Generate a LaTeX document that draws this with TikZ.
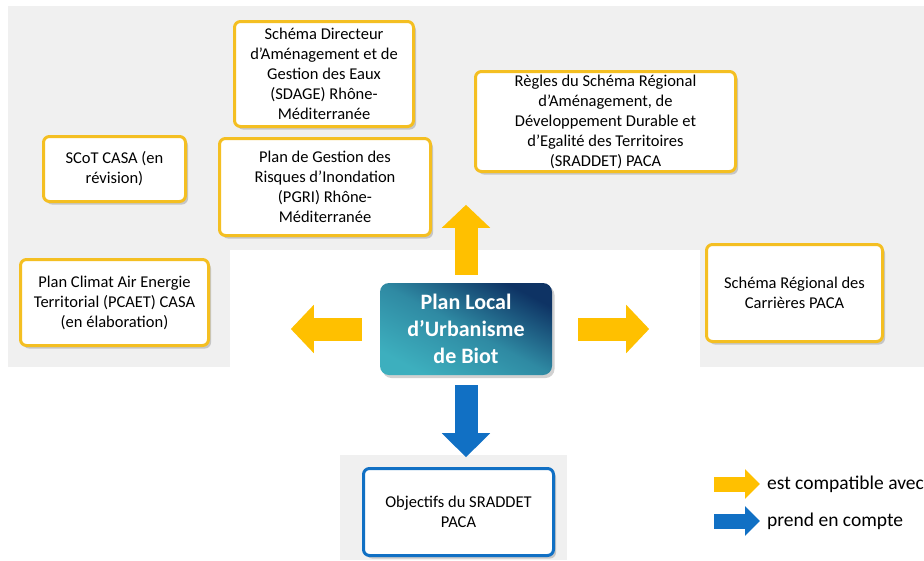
\documentclass[tikz,border=0pt]{standalone}
\usepackage{fontspec}
\setmainfont{Carlito}
\usetikzlibrary{arrows.meta, shadows, positioning}
\definecolor{plugold}{HTML}{FFC000}
\definecolor{pluframe}{HTML}{F4BF22}
\definecolor{plublue}{HTML}{1170C4}
\definecolor{plunavy}{HTML}{0E3364}
\definecolor{pluteal}{HTML}{3DAFBE}
\definecolor{bggrey}{HTML}{F0F0F0}
\tikzset{
x=1pt, y=-1pt, % one unit per pixel, y going down
softshadow/.style={drop shadow={shadow xshift=2.5pt, shadow yshift=-3pt, opacity=0.3, fill=black!60}}, % grey shadow bottom right
docbox/.style={draw=pluframe, line width=3pt, fill=white, rounded corners=6pt, align=center, inner sep=2pt, font=\fontsize{16.5}{20}\selectfont, softshadow}, % the yellow framed documents
bluebox/.style={docbox, draw=plublue}, % documents taken into account
plubox/.style={rounded corners=9pt, top color=plunavy, bottom color=pluteal, middle color=pluteal!70!plunavy, shading angle=-28, text=white, align=center, font=\bfseries\fontsize{22}{27}\selectfont, softshadow}, % the PLU itself
yarrow/.style={draw=plugold, line width=23pt, -{Triangle[length=23pt, width=47pt]}}, % block arrow, compatibility
barrow/.style={draw=plublue, line width=23pt, -{Triangle[length=24pt, width=47pt]}}, % block arrow, taken into account
legendtxt/.style={anchor=west, inner sep=0pt, font=\fontsize{19.5}{23}\selectfont},
}

\begin{document}
\begin{tikzpicture}
    \useasboundingbox (0,0) rectangle (924,560);

    % grey panels behind the boxes
    \fill[bggrey] (8,6) rectangle (924,250);
    \fill[bggrey] (8,250) rectangle (230,367);
    \fill[bggrey] (700,250) rectangle (924,367);
    \fill[bggrey] (340,455) rectangle (567,560);

    \node[plubox, minimum width=172, minimum height=92] (plu) at (466,329) {Plan Local\\d’Urbanisme\\de Biot};

    \node[docbox, minimum width=179, minimum height=105] (sdage) at (324,74) {Schéma Directeur\\d’Aménagement et de\\Gestion des Eaux\\(SDAGE) Rhône-\\Méditerranée};
    \node[docbox, minimum width=142, minimum height=65] (scot) at (114.5,169) {SCoT CASA (en\\révision)};
    \node[docbox, minimum width=211, minimum height=97] (pgri) at (325,187) {Plan de Gestion des\\Risques d’Inondation\\(PGRI) Rhône-\\Méditerranée};
    \node[docbox, minimum width=260, minimum height=100] (sraddet) at (605.5,121.5) {Règles du Schéma Régional\\d’Aménagement, de\\Développement Durable et\\d’Egalité des Territoires\\(SRADDET) PACA};
    \node[docbox, minimum width=188, minimum height=86] (pcaet) at (114.5,302.5) {Plan Climat Air Energie\\Territorial (PCAET) CASA\\(en élaboration)};
    \node[docbox, minimum width=176, minimum height=97] (src) at (794.5,293) {Schéma Régional des\\Carrières PACA};
    \node[bluebox, minimum width=190, minimum height=87] (objectifs) at (458.5,512) {Objectifs du SRADDET\\PACA};

    % block arrows around the PLU
    \coordinate (upfoot) at ([yshift=8pt]plu.north);
    \coordinate (uptip) at ([yshift=78pt]plu.north);
    \coordinate (leftfoot) at ([xshift=-18pt]plu.west);
    \coordinate (lefttip) at ([xshift=-89pt]plu.west);
    \coordinate (rightfoot) at ([xshift=26pt]plu.east);
    \coordinate (righttip) at ([xshift=97pt]plu.east);
    \coordinate (downfoot) at ([yshift=-10pt]plu.south);
    \coordinate (downtip) at ([yshift=-82pt]plu.south);

    \draw[yarrow] (upfoot) -- (uptip);
    \draw[yarrow] (leftfoot) -- (lefttip);
    \draw[yarrow] (rightfoot) -- (righttip);
    \draw[barrow] (downfoot) -- (downtip);

    % legend
    \node[legendtxt] (compat) at (767,484) {est compatible avec};
    \node[legendtxt] (compte) at (767,521) {prend en compte};
    \draw[yarrow, line width=15pt, -{Triangle[length=15pt, width=29pt]}] ([xshift=-53pt]compat.west) -- ([xshift=-7pt]compat.west);
    \draw[barrow, line width=15pt, -{Triangle[length=15pt, width=29pt]}] ([xshift=-53pt]compte.west) -- ([xshift=-7pt]compte.west);
\end{tikzpicture}
\end{document}
